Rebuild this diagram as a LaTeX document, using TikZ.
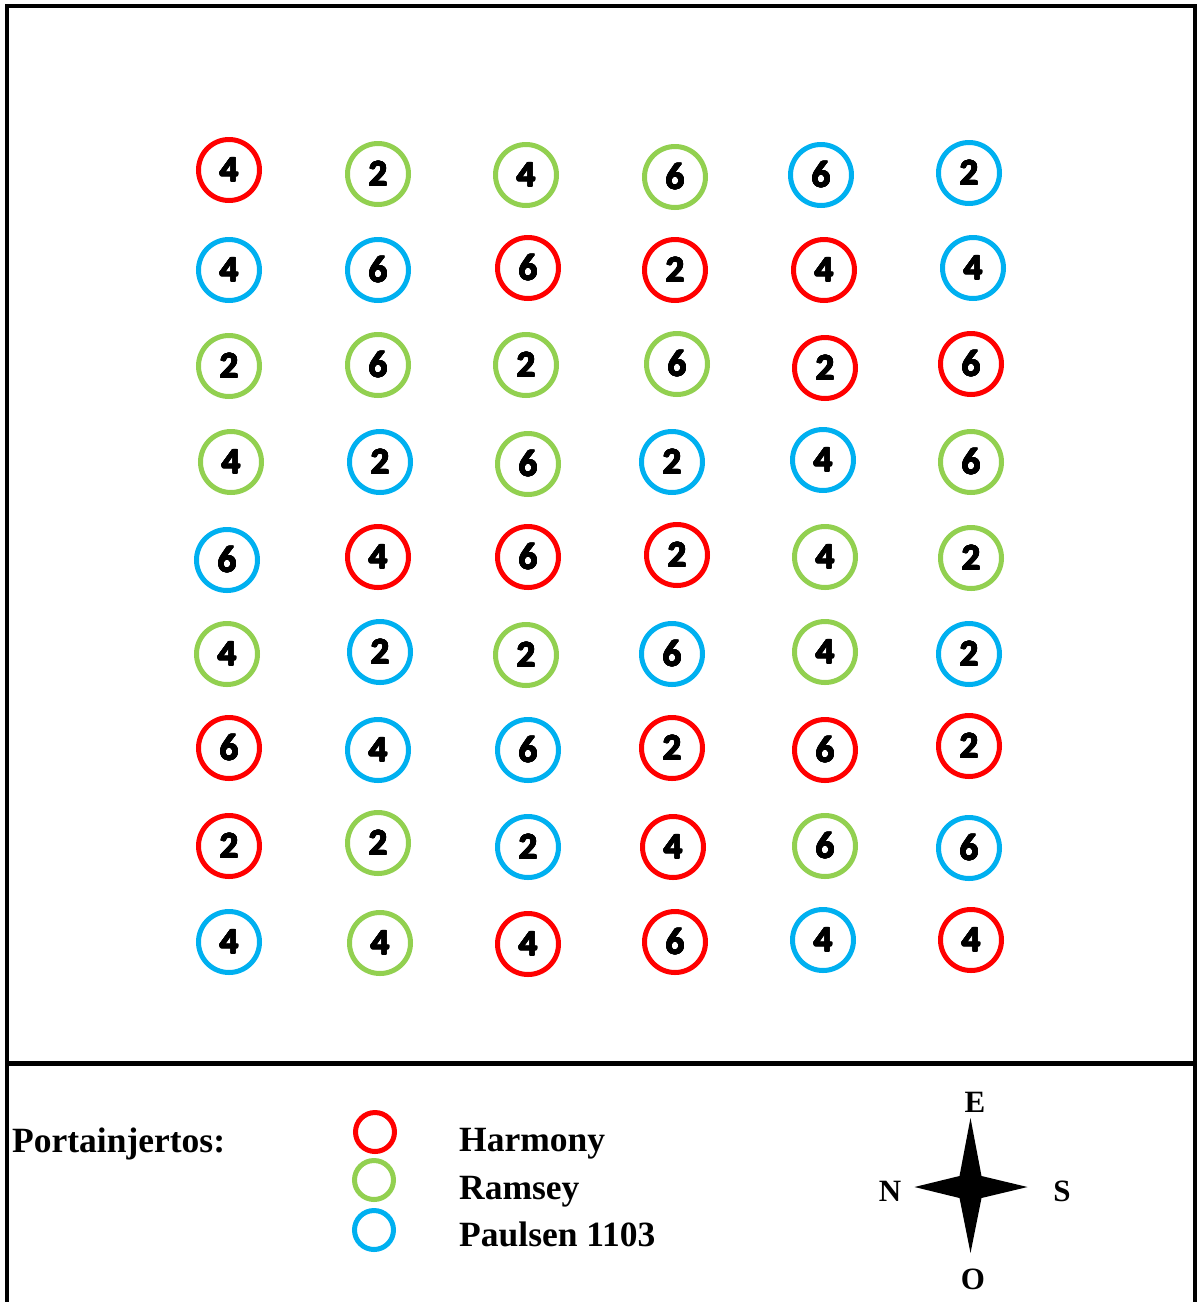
\documentclass[tikz,border=0pt]{standalone}
\usepackage{fontspec}
\usepackage{contour}
\contourlength{0.6pt}
\contournumber{16}
\setmainfont{Liberation Serif}
\newfontfamily\digitfont{Carlito}
\definecolor{hred}{HTML}{FF0000}
\definecolor{rgreen}{HTML}{92D050}
\definecolor{pblue}{HTML}{00B0F0}
\newcommand{\dg}[1]{\contour{black}{#1}}
\tikzset{
  ring/.style={circle, draw=#1, line width=5pt, minimum size=61pt, inner sep=0pt,
    font=\digitfont\bfseries\fontsize{37}{37}\selectfont},
  legring/.style={circle, draw=#1, line width=5pt, minimum size=39pt, inner sep=0pt},
  legtext/.style={anchor=base west, inner sep=0pt, font=\bfseries\fontsize{35.5}{35.5}\selectfont},
  dirlabel/.style={inner sep=0pt, font=\bfseries\fontsize{31}{31}\selectfont},
  frame/.style={line width=4pt, line cap=rect}
}
\begin{document}
\begin{tikzpicture}[x=1pt,y=-1pt]
\useasboundingbox (0,0) rectangle (1198,1302);
% frame
\draw[frame] (7,1310) -- (7,5.5) -- (1195,5.5) -- (1195,1310);
\draw[line width=5pt] (7,1063.5) -- (1195,1063.5);
% row 1
\node[ring=hred]   (c11) at (229,170) {\dg{4}};
\node[ring=rgreen] (c12) at (378,174) {\dg{2}};
\node[ring=rgreen] (c13) at (526,175) {\dg{4}};
\node[ring=rgreen] (c14) at (675,177) {\dg{6}};
\node[ring=pblue]  (c15) at (821,175) {\dg{6}};
\node[ring=pblue]  (c16) at (969,173) {\dg{2}};
% row 2
\node[ring=pblue]  (c21) at (229,270) {\dg{4}};
\node[ring=pblue]  (c22) at (378,270) {\dg{6}};
\node[ring=hred]   (c23) at (528,268) {\dg{6}};
\node[ring=hred]   (c24) at (675,270) {\dg{2}};
\node[ring=hred]   (c25) at (824,270) {\dg{4}};
\node[ring=pblue]  (c26) at (973,268) {\dg{4}};
% row 3
\node[ring=rgreen] (c31) at (229,366) {\dg{2}};
\node[ring=rgreen] (c32) at (378,365) {\dg{6}};
\node[ring=rgreen] (c33) at (526,365) {\dg{2}};
\node[ring=rgreen] (c34) at (677,364) {\dg{6}};
\node[ring=hred]   (c35) at (825,368) {\dg{2}};
\node[ring=hred]   (c36) at (971,364) {\dg{6}};
% row 4
\node[ring=rgreen] (c41) at (231,462) {\dg{4}};
\node[ring=pblue]  (c42) at (380,462) {\dg{2}};
\node[ring=rgreen] (c43) at (528,464) {\dg{6}};
\node[ring=pblue]  (c44) at (672,462) {\dg{2}};
\node[ring=pblue]  (c45) at (823,460) {\dg{4}};
\node[ring=rgreen] (c46) at (971,462) {\dg{6}};
% row 5
\node[ring=pblue]  (c51) at (227,560) {\dg{6}};
\node[ring=hred]   (c52) at (378,557) {\dg{4}};
\node[ring=hred]   (c53) at (528,557) {\dg{6}};
\node[ring=hred]   (c54) at (677,555) {\dg{2}};
\node[ring=rgreen] (c55) at (825,557) {\dg{4}};
\node[ring=rgreen] (c56) at (971,558) {\dg{2}};
% row 6
\node[ring=rgreen] (c61) at (227,654) {\dg{4}};
\node[ring=pblue]  (c62) at (380,652) {\dg{2}};
\node[ring=rgreen] (c63) at (526,655) {\dg{2}};
\node[ring=pblue]  (c64) at (672,654) {\dg{6}};
\node[ring=rgreen] (c65) at (825,652) {\dg{4}};
\node[ring=pblue]  (c66) at (969,654) {\dg{2}};
% row 7
\node[ring=hred]   (c71) at (229,748) {\dg{6}};
\node[ring=pblue]  (c72) at (378,750) {\dg{4}};
\node[ring=pblue]  (c73) at (528,750) {\dg{6}};
\node[ring=hred]   (c74) at (672,748) {\dg{2}};
\node[ring=hred]   (c75) at (825,750) {\dg{6}};
\node[ring=hred]   (c76) at (969,746) {\dg{2}};
% row 8
\node[ring=hred]   (c81) at (229,846) {\dg{2}};
\node[ring=rgreen] (c82) at (378,843) {\dg{2}};
\node[ring=pblue]  (c83) at (528,847) {\dg{2}};
\node[ring=hred]   (c84) at (673,847) {\dg{4}};
\node[ring=rgreen] (c85) at (825,846) {\dg{6}};
\node[ring=pblue]  (c86) at (969,848) {\dg{6}};
% row 9
\node[ring=pblue]  (c91) at (229,942) {\dg{4}};
\node[ring=rgreen] (c92) at (380,943) {\dg{4}};
\node[ring=hred]   (c93) at (528,944) {\dg{4}};
\node[ring=hred]   (c94) at (675,942) {\dg{6}};
\node[ring=pblue]  (c95) at (823,940) {\dg{4}};
\node[ring=hred]   (c96) at (971,940) {\dg{4}};
% legend
\node[legtext] (ptitle) at (12,1152) {Portainjertos:};
\node[legring=hred]   (lr) at (375,1132) {};
\node[legring=rgreen] (lg) at (374,1180) {};
\node[legring=pblue]  (lb) at (374,1230) {};
\node[legtext] (th) at (459,1151) {Harmony};
\node[legtext] (tr) at (459,1199) {Ramsey};
\node[legtext] (tp) at (459,1246) {Paulsen 1103};
% compass
\coordinate (comp) at (970.5,1187);
\fill[black] (comp) ++(0,-69) -- ++(11,58) -- ++(46,11) -- ++(-46,11) -- ++(-11,55)
  -- ++(-11,-55) -- ++(-45,-11) -- ++(45,-11) -- cycle;
\node[dirlabel] (lE) at (975,1102) {E};
\node[dirlabel] (lN) at (890,1191) {N};
\node[dirlabel] (lS) at (1062,1191) {S};
\node[dirlabel] (lO) at (973,1279) {O};
\end{tikzpicture}
\end{document}
